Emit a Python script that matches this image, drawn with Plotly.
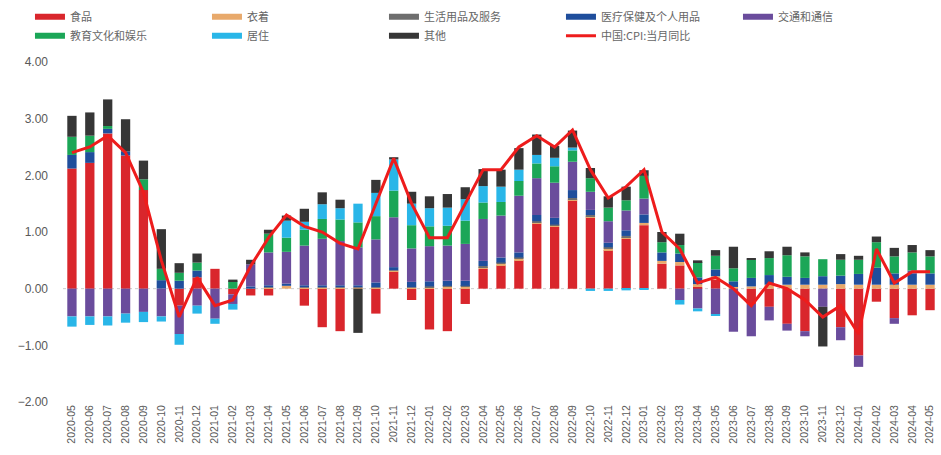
import plotly.graph_objects as go

months = ["2020-05","2020-06","2020-07","2020-08","2020-09","2020-10","2020-11","2020-12",
          "2021-01","2021-02","2021-03","2021-04","2021-05","2021-06","2021-07","2021-08",
          "2021-09","2021-10","2021-11","2021-12","2022-01","2022-02","2022-03","2022-04",
          "2022-05","2022-06","2022-07","2022-08","2022-09","2022-10","2022-11","2022-12",
          "2023-01","2023-02","2023-03","2023-04","2023-05","2023-06","2023-07","2023-08",
          "2023-09","2023-10","2023-11","2023-12","2024-01","2024-02","2024-03","2024-04",
          "2024-05"]

food = [2.12, 2.22, 2.74, 2.35, 1.74, 0.0, -0.3, 0.2,
        0.35, -0.1, -0.12, -0.12, 0.0, -0.3, -0.68, -0.75,
        0.0, -0.44, 0.3, -0.2, -0.72, -0.75, -0.27, 0.35,
        0.41, 0.5, 1.15, 1.09, 1.56, 1.26, 0.68, 0.88,
        1.12, 0.44, 0.41, 0.03, 0.16, 0.0, -0.27, -0.32,
        -0.62, -0.75, 0.0, -0.68, -1.18, -0.23, -0.52, -0.47,
        -0.38]
clothing = [0.0, 0.0, 0.0, 0.0, 0.0, 0.0, 0.0, 0.0,
            0.0, 0.0, 0.0, 0.02, 0.05, 0.02, 0.02, 0.02,
            0.02, 0.02, 0.02, 0.02, 0.02, 0.03, 0.03, 0.03,
            0.03, 0.03, 0.02, 0.02, 0.02, 0.02, 0.03, 0.03,
            0.04, 0.05, 0.06, 0.05, 0.06, 0.03, 0.04, 0.07,
            0.07, 0.07, 0.07, 0.08, 0.07, 0.07, 0.07, 0.07,
            0.07]
household = [0.0, 0.0, 0.0, 0.0, 0.0, 0.0, 0.0, 0.0,
             0.0, 0.0, 0.0, 0.0, 0.0, 0.0, 0.0, 0.0,
             0.0, 0.0, 0.0, 0.0, 0.02, 0.02, 0.02, 0.02,
             0.02, 0.02, 0.02, 0.02, 0.02, 0.02, 0.02, 0.02,
             0.0, 0.0, 0.0, 0.0, 0.0, 0.0, 0.0, 0.0,
             0.0, 0.0, 0.0, 0.0, 0.0, 0.0, 0.0, 0.0,
             0.0]
medical = [0.24, 0.19, 0.08, 0.07, 0.0, 0.15, 0.14, 0.12,
           0.0, 0.0, 0.04, 0.04, 0.04, 0.04, 0.04, 0.04,
           0.04, 0.09, 0.06, 0.1, 0.09, 0.09, 0.09, 0.09,
           0.09, 0.09, 0.11, 0.12, 0.14, 0.09, 0.08, 0.1,
           0.15, 0.15, 0.15, 0.12, 0.12, 0.1, 0.15, 0.17,
           0.14, 0.12, 0.15, 0.15, 0.19, 0.3, 0.2, 0.2,
           0.2]
transport = [-0.49, -0.49, -0.49, -0.44, -0.41, -0.49, -0.5, -0.3,
             -0.53, -0.17, 0.39, 0.58, 0.56, 0.7, 0.82, 0.78,
             0.67, 0.76, 0.88, 0.59, 0.62, 0.62, 0.65, 0.74,
             0.74, 1.0, 0.65, 0.62, 0.5, 0.32, 0.38, 0.35,
             0.28, 0.0, -0.2, -0.35, -0.45, -0.76, -0.57, -0.24,
             -0.12, -0.09, -0.32, -0.23, -0.2, 0.0, -0.1, 0.05,
             0.0]
education = [0.32, 0.29, 0.05, 0.0, 0.19, 0.2, 0.14, 0.14,
             0.0, 0.13, 0.0, 0.33, 0.25, 0.28, 0.35, 0.38,
             0.44, 0.41, 0.47, 0.41, 0.35, 0.35, 0.41, 0.29,
             0.24, 0.26, 0.26, 0.29, 0.2, 0.24, 0.24, 0.18,
             0.4, 0.18, 0.15, 0.27, 0.24, 0.23, 0.32, 0.3,
             0.38, 0.38, 0.3, 0.28, 0.25, 0.45, 0.3, 0.32,
             0.3]
housing = [-0.18, -0.15, -0.16, -0.16, -0.18, -0.09, -0.19, -0.14,
           -0.09, -0.1, 0.0, 0.0, 0.3, 0.14, 0.26, 0.2,
           0.33, 0.41, 0.55, 0.38, 0.32, 0.32, 0.38, 0.29,
           0.27, 0.2, 0.15, 0.15, 0.05, -0.04, -0.04, -0.03,
           -0.02, 0.0, -0.08, -0.05, -0.03, 0.0, 0.0, 0.0,
           0.0, 0.0, 0.0, 0.0, 0.0, 0.0, 0.0, 0.0,
           0.0]
other = [0.37, 0.41, 0.47, 0.57, 0.33, 0.7, 0.17, 0.16,
         0.0, 0.03, 0.08, 0.07, 0.09, 0.23, 0.21, 0.15,
         -0.78, 0.23, 0.04, 0.21, 0.21, 0.24, 0.21, 0.3,
         0.3, 0.38, 0.36, 0.21, 0.3, 0.18, 0.2, 0.24,
         0.1, 0.18, 0.2, 0.03, 0.1, 0.38, 0.02, 0.12,
         0.15, 0.07, -0.7, 0.1, 0.07, 0.1, 0.15, 0.13,
         0.11]
cpi = [2.4, 2.5, 2.7, 2.4, 1.7, 0.5, -0.5, 0.2,
       -0.3, -0.2, 0.4, 0.9, 1.3, 1.1, 1.0, 0.8,
       0.7, 1.5, 2.3, 1.5, 0.9, 0.9, 1.5, 2.1,
       2.1, 2.5, 2.7, 2.5, 2.8, 2.1, 1.6, 1.8,
       2.1, 1.0, 0.7, 0.1, 0.2, 0.0, -0.3, 0.1,
       0.0, -0.2, -0.5, -0.3, -0.8, 0.7, 0.1, 0.3,
       0.3]

y_ticks = [-2, -1, 0, 1, 2, 3, 4]

series = [
    ("食品", food, "#D9262C"),
    ("衣着", clothing, "#E8A96B"),
    ("生活用品及服务", household, "#6E6E6E"),
    ("医疗保健及个人用品", medical, "#1F4E9C"),
    ("交通和通信", transport, "#6A4C9C"),
    ("教育文化和娱乐", education, "#1BA657"),
    ("居住", housing, "#29B6E8"),
    ("其他", other, "#363636"),
]
cpi_name = "中国:CPI:当月同比"
cpi_color = "#EE1C1C"

fig = go.Figure()
for name, vals, color in series:
    fig.add_trace(go.Bar(x=months, y=vals, name=name, marker_color=color,
                         marker_line_width=0, legendgroup=name, showlegend=False))

fig.add_trace(go.Scatter(x=months, y=cpi, mode="lines", name=cpi_name,
                         line=dict(color=cpi_color, width=3), showlegend=False,
                         legendgroup=cpi_name))

# legend swatches (wide rectangles like the reference)
for name, vals, color in series:
    fig.add_trace(go.Scatter(x=[None], y=[None], mode="lines", name=name,
                             line=dict(color=color, width=6), legendgroup=name))
fig.add_trace(go.Scatter(x=[None], y=[None], mode="lines", name=cpi_name,
                         line=dict(color=cpi_color, width=3), legendgroup=cpi_name))

fig.add_hline(y=0, line=dict(color="#CCCCCC", width=1, dash="dot"), layer="below")

fig.update_layout(
    width=941, height=455,
    barmode="relative",
    bargap=0.48,
    plot_bgcolor="white",
    paper_bgcolor="white",
    margin=dict(l=63, r=2, t=62, b=53, autoexpand=False),
    font=dict(family="Noto Sans CJK SC, sans-serif", color="#595959"),
    legend=dict(orientation="h", xref="paper", yref="paper",
                x=-0.0377, y=1.176, xanchor="left", yanchor="top",
                entrywidth=132, entrywidthmode="pixels",
                font=dict(size=11, color="#666666",
                          family="Noto Sans CJK SC, sans-serif"),
                traceorder="normal", itemclick=False, tracegroupgap=0),
    xaxis=dict(type="category", tickangle=-90, showgrid=False, showline=False,
               tickfont=dict(size=10.5, color="#595959", family="Liberation Sans, Arial"),
               ticks="", automargin=False),
    yaxis=dict(range=[-2, 4], tickvals=y_ticks, tickformat=".2f", showgrid=False,
               zeroline=False, showline=False, ticks="",
               ticklabelstandoff=14,
               tickfont=dict(size=12, color="#595959", family="Liberation Sans, Arial"),
               automargin=False),
)

fig.write_html("out.html")
